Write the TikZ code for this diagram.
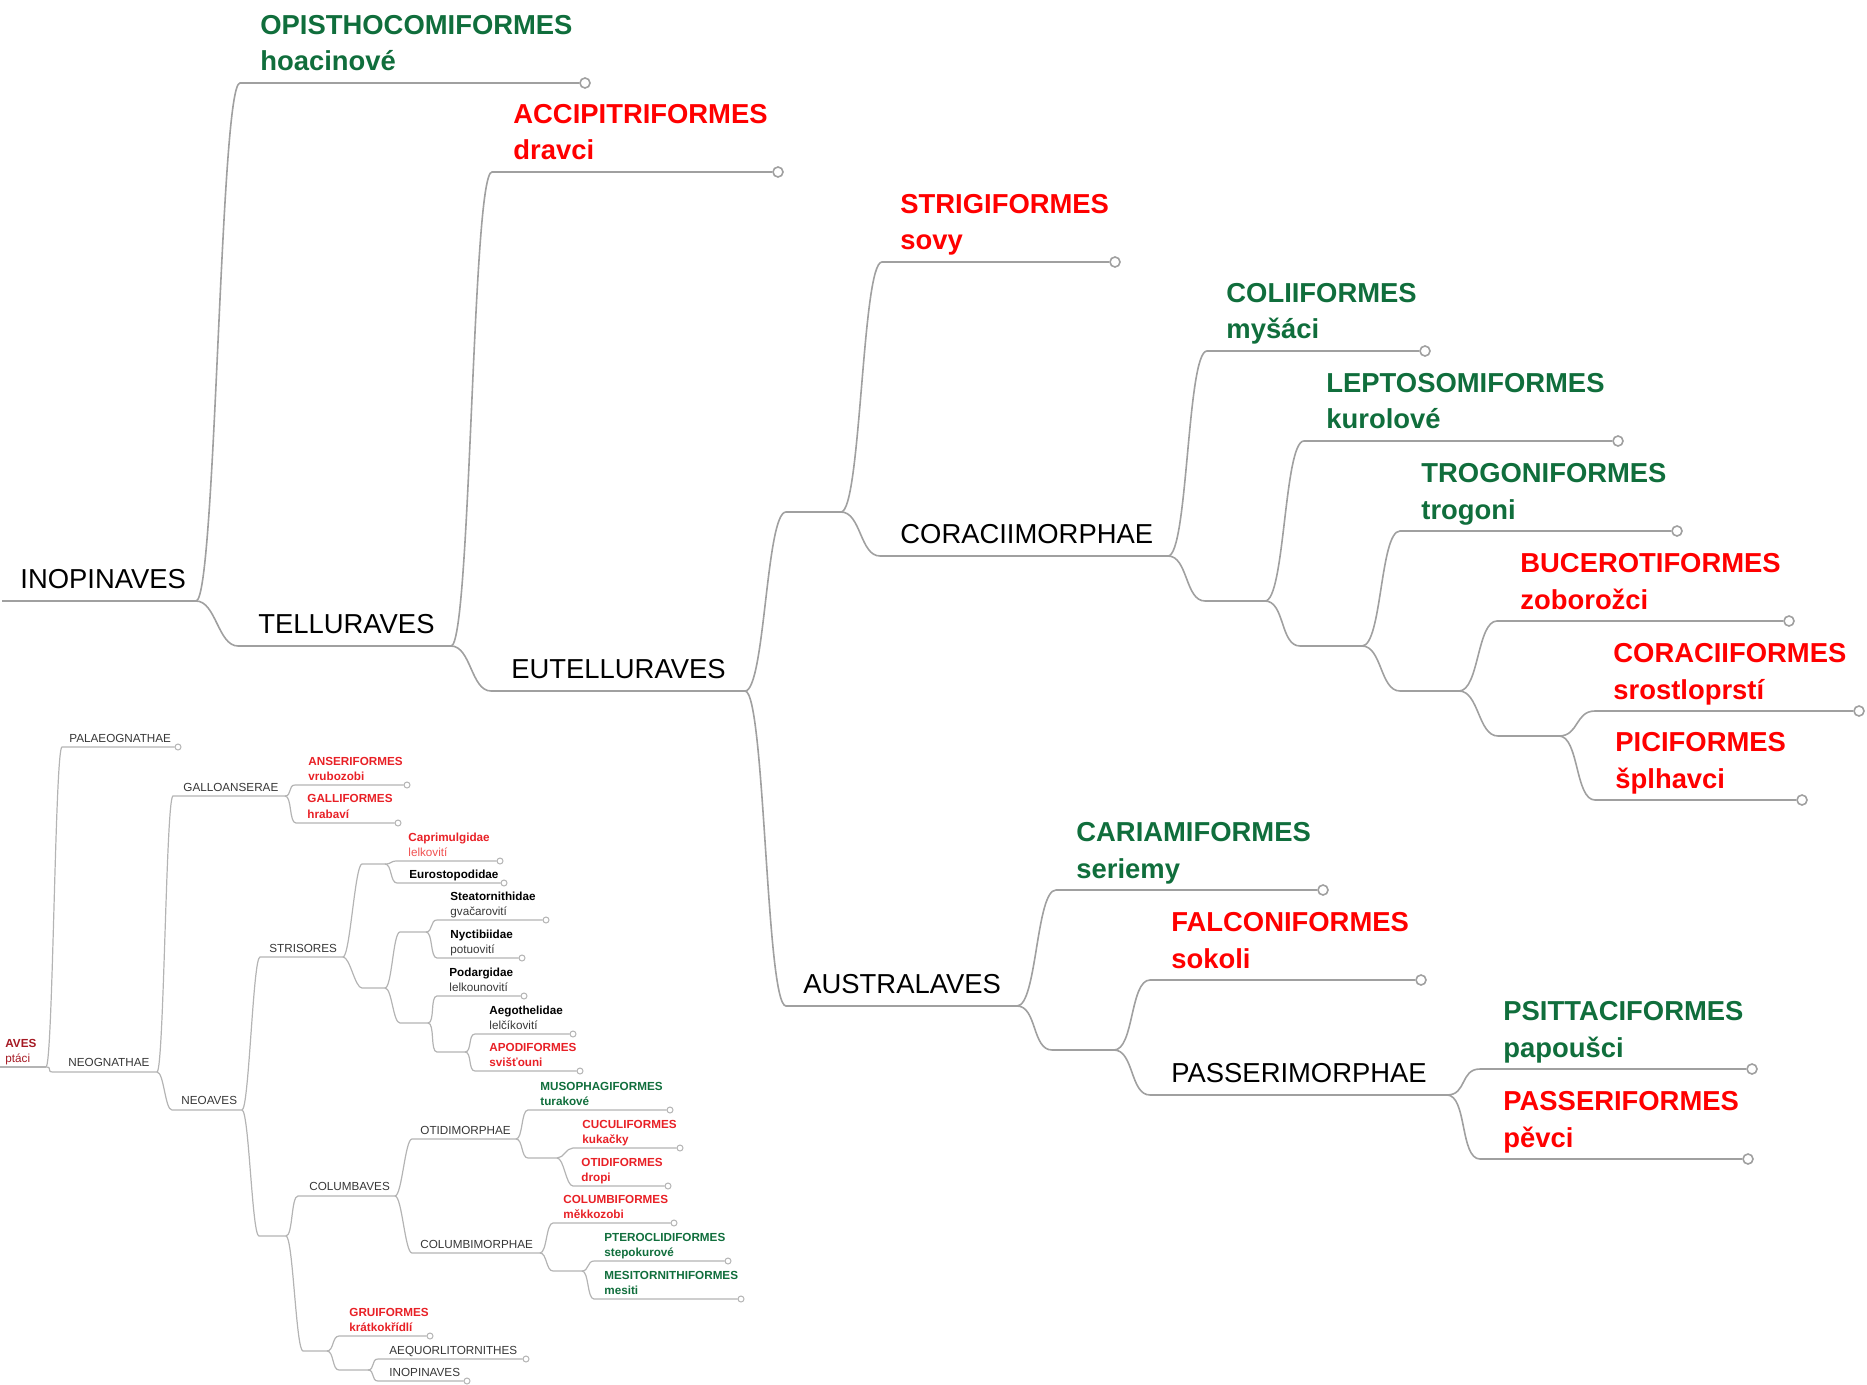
\documentclass[tikz,border=0pt]{standalone}
\usepackage{fontspec}
\setmainfont{Liberation Sans}
\definecolor{grn}{RGB}{16,110,60}
\definecolor{rd}{RGB}{255,0,0}
\definecolor{srd}{RGB}{232,32,38}
\definecolor{lrd}{RGB}{240,80,80}
\definecolor{drd}{RGB}{165,25,35}
\definecolor{lnk}{RGB}{160,160,160}
\definecolor{slnk}{RGB}{180,180,180}
\definecolor{stxt}{RGB}{55,55,55}

\begin{document}
\begin{tikzpicture}
  [x=0.5pt,y=-0.5pt,
   every node/.style={anchor=base west,inner sep=0pt},
   big/.style={font=\fontsize{13.7}{16}\selectfont},
   bigb/.style={font=\fontsize{13.7}{16}\selectfont\bfseries},
   sm/.style={font=\fontsize{5.85}{7}\selectfont,text=stxt},
   smb/.style={font=\fontsize{5.85}{7}\selectfont\bfseries},
   tip/.style={circle,anchor=center,draw=lnk,fill=white,line width=0.8pt,minimum size=5pt},
   stip/.style={circle,anchor=center,draw=slnk,fill=white,line width=0.5pt,minimum size=3pt},
   link/.style={draw=lnk,line width=0.8pt,out=0,in=180,distance=10pt},
   slink/.style={draw=slnk,line width=0.6pt,out=0,in=180,distance=3.5pt}]
  \useasboundingbox (0,0) rectangle (1867,1385);

  % big tree
  \coordinate (inop0) at (2,601);     \coordinate (inop) at (196,601);
  \coordinate (opis0) at (240,83);    \node[tip] (opis) at (585,83) {};
  \coordinate (tell0) at (238,646);   \coordinate (tell) at (451,646);
  \coordinate (accip0) at (492,172);  \node[tip] (accip) at (778,172) {};
  \coordinate (eutel0) at (491,691);  \coordinate (eutel) at (745,691);
  \coordinate (eua0) at (786,512);    \coordinate (eua) at (841,512);
  \coordinate (austr0) at (786,1006); \coordinate (austr) at (1017,1006);
  \coordinate (strig0) at (882,262);  \node[tip] (strig) at (1115,262) {};
  \coordinate (corm0) at (880,556);   \coordinate (corm) at (1168,556);
  \coordinate (coli0) at (1207,351);  \node[tip] (coli) at (1425,351) {};
  \coordinate (cb0) at (1205,601);    \coordinate (cb) at (1265,601);
  \coordinate (lepto0) at (1304,441); \node[tip] (lepto) at (1618,441) {};
  \coordinate (cc0) at (1300,646);    \coordinate (cc) at (1362,646);
  \coordinate (trog0) at (1400,531);  \node[tip] (trog) at (1677,531) {};
  \coordinate (cd0) at (1400,691);    \coordinate (cd) at (1459,691);
  \coordinate (buce0) at (1497,621);  \node[tip] (buce) at (1789,621) {};
  \coordinate (ce0) at (1498,736);    \coordinate (ce) at (1559,736);
  \coordinate (cora0) at (1595,711);  \node[tip] (cora) at (1859,711) {};
  \coordinate (pici0) at (1595,800);  \node[tip] (pici) at (1802,800) {};
  \coordinate (caria0) at (1056,890); \node[tip] (caria) at (1323,890) {};
  \coordinate (af0) at (1052,1050);   \coordinate (af) at (1114,1050);
  \coordinate (falco0) at (1150,980); \node[tip] (falco) at (1421,980) {};
  \coordinate (pasm0) at (1150,1095); \coordinate (pasm) at (1447,1095);
  \coordinate (psit0) at (1480,1069); \node[tip] (psit) at (1752,1069) {};
  \coordinate (pass0) at (1480,1159); \node[tip] (pass) at (1748,1159) {};

  \node[big] (inopL) at (20,588.5) {INOPINAVES};
  \node[bigb,text=grn] (opisL) at (260,34.5) {OPISTHOCOMIFORMES};
  \node[bigb,text=grn] (opisC) at (260,71) {hoacinové};
  \node[big] (tellL) at (258,633.5) {TELLURAVES};
  \node[bigb,text=rd] (accipL) at (513,123.5) {ACCIPITRIFORMES};
  \node[bigb,text=rd] (accipC) at (513,160) {dravci};
  \node[big] (eutelL) at (511,678.5) {EUTELLURAVES};
  \node[big] (austrL) at (803,993.5) {AUSTRALAVES};
  \node[bigb,text=rd] (strigL) at (900,213.5) {STRIGIFORMES};
  \node[bigb,text=rd] (strigC) at (900,250) {sovy};
  \node[big] (cormL) at (900,543.5) {CORACIIMORPHAE};
  \node[bigb,text=grn] (coliL) at (1226,302.5) {COLIIFORMES};
  \node[bigb,text=grn] (coliC) at (1226,339) {myšáci};
  \node[bigb,text=grn] (leptoL) at (1326,392.5) {LEPTOSOMIFORMES};
  \node[bigb,text=grn] (leptoC) at (1326,429) {kurolové};
  \node[bigb,text=grn] (trogL) at (1421,482.5) {TROGONIFORMES};
  \node[bigb,text=grn] (trogC) at (1421,519) {trogoni};
  \node[bigb,text=rd] (buceL) at (1520,572.5) {BUCEROTIFORMES};
  \node[bigb,text=rd] (buceC) at (1520,609) {zoborožci};
  \node[bigb,text=rd] (coraL) at (1613,662.5) {CORACIIFORMES};
  \node[bigb,text=rd] (coraC) at (1613,699) {srostloprstí};
  \node[bigb,text=rd] (piciL) at (1615,751.5) {PICIFORMES};
  \node[bigb,text=rd] (piciC) at (1615,788) {šplhavci};
  \node[bigb,text=grn] (cariaL) at (1076,841.5) {CARIAMIFORMES};
  \node[bigb,text=grn] (cariaC) at (1076,878) {seriemy};
  \node[bigb,text=rd] (falcoL) at (1171,931.5) {FALCONIFORMES};
  \node[bigb,text=rd] (falcoC) at (1171,968) {sokoli};
  \node[big] (pasmL) at (1171,1082.5) {PASSERIMORPHAE};
  \node[bigb,text=grn] (psitL) at (1503,1020.5) {PSITTACIFORMES};
  \node[bigb,text=grn] (psitC) at (1503,1057) {papoušci};
  \node[bigb,text=rd] (passL) at (1503,1110.5) {PASSERIFORMES};
  \node[bigb,text=rd] (passC) at (1503,1147) {pěvci};

  \draw[link] (inop0) -- (inop);
  \draw[link] (inop) to (opis0) -- (opis);
  \draw[link] (inop) to (tell0) -- (tell);
  \draw[link] (tell) to (accip0) -- (accip);
  \draw[link] (tell) to (eutel0) -- (eutel);
  \draw[link] (eutel) to (eua0) -- (eua);
  \draw[link] (eutel) to (austr0) -- (austr);
  \draw[link] (eua) to (strig0) -- (strig);
  \draw[link] (eua) to (corm0) -- (corm);
  \draw[link] (corm) to (coli0) -- (coli);
  \draw[link] (corm) to (cb0) -- (cb);
  \draw[link] (cb) to (lepto0) -- (lepto);
  \draw[link] (cb) to (cc0) -- (cc);
  \draw[link] (cc) to (trog0) -- (trog);
  \draw[link] (cc) to (cd0) -- (cd);
  \draw[link] (cd) to (buce0) -- (buce);
  \draw[link] (cd) to (ce0) -- (ce);
  \draw[link] (ce) to (cora0) -- (cora);
  \draw[link] (ce) to (pici0) -- (pici);
  \draw[link] (austr) to (caria0) -- (caria);
  \draw[link] (austr) to (af0) -- (af);
  \draw[link] (af) to (falco0) -- (falco);
  \draw[link] (af) to (pasm0) -- (pasm);
  \draw[link] (pasm) to (psit0) -- (psit);
  \draw[link] (pasm) to (pass0) -- (pass);

  % small tree
  \coordinate (aves0) at (0,1067);    \coordinate (aves) at (46,1067);
  \coordinate (palae0) at (62,747);   \node[stip] (palae) at (178,747) {};
  \coordinate (neog0) at (53,1072);   \coordinate (neog) at (157,1072);
  \coordinate (gall0) at (173,796);   \coordinate (gall) at (285,796);
  \coordinate (anser0) at (295,785);  \node[stip] (anser) at (407,785) {};
  \coordinate (galli0) at (296,823);  \node[stip] (galli) at (398,823) {};
  \coordinate (neoav0) at (172,1110); \coordinate (neoav) at (242,1110);
  \coordinate (stris0) at (260,957);  \coordinate (stris) at (343,957);
  \coordinate (su0) at (362,864);     \coordinate (su) at (385,864);
  \coordinate (capri0) at (397,861);  \node[stip] (capri) at (500,861) {};
  \coordinate (euro0) at (397,883);   \node[stip] (euro) at (504,883) {};
  \coordinate (sd0) at (362,988);     \coordinate (sd) at (385,988);
  \coordinate (sdu0) at (400,932);    \coordinate (sdu) at (426,932);
  \coordinate (steat0) at (437,920);  \node[stip] (steat) at (546,920) {};
  \coordinate (nyct0) at (437,958);   \node[stip] (nyct) at (522,958) {};
  \coordinate (sdd0) at (400,1023);   \coordinate (sdd) at (428,1023);
  \coordinate (podar0) at (437,996);  \node[stip] (podar) at (524,996) {};
  \coordinate (sg0) at (437,1052);    \coordinate (sg) at (465,1052);
  \coordinate (aego0) at (475,1034);  \node[stip] (aego) at (573,1034) {};
  \coordinate (apod0) at (475,1071);  \node[stip] (apod) at (580,1071) {};
  \coordinate (sh0) at (259,1236);    \coordinate (sh) at (286,1236);
  \coordinate (colav0) at (298,1196); \coordinate (colav) at (395,1196);
  \coordinate (otid0) at (412,1139);  \coordinate (otid) at (516,1139);
  \coordinate (muso0) at (528,1110);  \node[stip] (muso) at (670,1110) {};
  \coordinate (sj0) at (528,1158);    \coordinate (sj) at (557,1158);
  \coordinate (cucu0) at (573,1148);  \node[stip] (cucu) at (680,1148) {};
  \coordinate (otidf0) at (573,1186); \node[stip] (otidf) at (668,1186) {};
  \coordinate (colm0) at (412,1253);  \coordinate (colm) at (540,1253);
  \coordinate (colf0) at (553,1223);  \node[stip] (colf) at (674,1223) {};
  \coordinate (sk0) at (553,1271);    \coordinate (sk) at (582,1271);
  \coordinate (ptero0) at (594,1261); \node[stip] (ptero) at (728,1261) {};
  \coordinate (mesi0) at (594,1299);  \node[stip] (mesi) at (741,1299) {};
  \coordinate (si0) at (303,1351);    \coordinate (si) at (327,1351);
  \coordinate (grui0) at (339,1336);  \node[stip] (grui) at (430,1336) {};
  \coordinate (sl0) at (339,1370);    \coordinate (sl) at (368,1370);
  \coordinate (aequ0) at (378,1359);  \node[stip] (aequ) at (526,1359) {};
  \coordinate (sinop0) at (378,1381); \node[stip] (sinop) at (467,1381) {};

  \node[smb,text=drd] (avesL) at (5,1047) {AVES};
  \node[sm,text=drd] (avesC) at (5,1062.5) {ptáci};
  \node[sm] (palaeL) at (69,742) {PALAEOGNATHAE};
  \node[sm] (neogL) at (68,1066.5) {NEOGNATHAE};
  \node[sm] (gallL) at (183,791) {GALLOANSERAE};
  \node[smb,text=srd] (anserL) at (308,765) {ANSERIFORMES};
  \node[smb,text=srd] (anserC) at (308,780) {vrubozobi};
  \node[smb,text=srd] (galliL) at (307,802.5) {GALLIFORMES};
  \node[smb,text=srd] (galliC) at (307,818) {hrabaví};
  \node[sm] (neoavL) at (181,1104.5) {NEOAVES};
  \node[sm] (strisL) at (269,952) {STRISORES};
  \node[smb,text=srd] (capriL) at (408,841) {Caprimulgidae};
  \node[sm,text=lrd] (capriC) at (408,856) {lelkovití};
  \node[smb] (euroL) at (409,878) {Eurostopodidae};
  \node[smb] (steatL) at (450,900) {Steatornithidae};
  \node[sm] (steatC) at (450,915) {gvačarovití};
  \node[smb] (nyctL) at (450,938) {Nyctibiidae};
  \node[sm] (nyctC) at (450,953) {potuovití};
  \node[smb] (podarL) at (449,976) {Podargidae};
  \node[sm] (podarC) at (449,991) {lelkounovití};
  \node[smb] (aegoL) at (489,1014) {Aegothelidae};
  \node[sm] (aegoC) at (489,1029) {lelčíkovití};
  \node[smb,text=srd] (apodL) at (489,1051) {APODIFORMES};
  \node[smb,text=srd] (apodC) at (489,1066) {svišťouni};
  \node[sm] (colavL) at (309,1190.5) {COLUMBAVES};
  \node[sm] (otidL) at (420,1134) {OTIDIMORPHAE};
  \node[smb,text=grn] (musoL) at (540,1090) {MUSOPHAGIFORMES};
  \node[smb,text=grn] (musoC) at (540,1105) {turakové};
  \node[smb,text=srd] (cucuL) at (582,1128) {CUCULIFORMES};
  \node[smb,text=srd] (cucuC) at (582,1143) {kukačky};
  \node[smb,text=srd] (otidfL) at (581,1166) {OTIDIFORMES};
  \node[smb,text=srd] (otidfC) at (581,1181) {dropi};
  \node[sm] (colmL) at (420,1248) {COLUMBIMORPHAE};
  \node[smb,text=srd] (colfL) at (563,1203) {COLUMBIFORMES};
  \node[smb,text=srd] (colfC) at (563,1218) {měkkozobi};
  \node[smb,text=grn] (pteroL) at (604,1241) {PTEROCLIDIFORMES};
  \node[smb,text=grn] (pteroC) at (604,1256) {stepokurové};
  \node[smb,text=grn] (mesiL) at (604,1279) {MESITORNITHIFORMES};
  \node[smb,text=grn] (mesiC) at (604,1294) {mesiti};
  \node[smb,text=srd] (gruiL) at (349,1316) {GRUIFORMES};
  \node[smb,text=srd] (gruiC) at (349,1331) {krátkokřídlí};
  \node[sm] (aequL) at (389,1354) {AEQUORLITORNITHES};
  \node[sm] (sinopL) at (389,1376) {INOPINAVES};

  \draw[slink] (aves0) -- (aves);
  \draw[slink] (aves) to (palae0) -- (palae);
  \draw[slink] (aves) to (neog0) -- (neog);
  \draw[slink] (neog) to (gall0) -- (gall);
  \draw[slink] (neog) to (neoav0) -- (neoav);
  \draw[slink] (gall) to (anser0) -- (anser);
  \draw[slink] (gall) to (galli0) -- (galli);
  \draw[slink] (neoav) to (stris0) -- (stris);
  \draw[slink] (neoav) to (sh0) -- (sh);
  \draw[slink] (stris) to (su0) -- (su);
  \draw[slink] (stris) to (sd0) -- (sd);
  \draw[slink] (su) to (capri0) -- (capri);
  \draw[slink] (su) to (euro0) -- (euro);
  \draw[slink] (sd) to (sdu0) -- (sdu);
  \draw[slink] (sd) to (sdd0) -- (sdd);
  \draw[slink] (sdu) to (steat0) -- (steat);
  \draw[slink] (sdu) to (nyct0) -- (nyct);
  \draw[slink] (sdd) to (podar0) -- (podar);
  \draw[slink] (sdd) to (sg0) -- (sg);
  \draw[slink] (sg) to (aego0) -- (aego);
  \draw[slink] (sg) to (apod0) -- (apod);
  \draw[slink] (sh) to (colav0) -- (colav);
  \draw[slink] (sh) to (si0) -- (si);
  \draw[slink] (colav) to (otid0) -- (otid);
  \draw[slink] (colav) to (colm0) -- (colm);
  \draw[slink] (otid) to (muso0) -- (muso);
  \draw[slink] (otid) to (sj0) -- (sj);
  \draw[slink] (sj) to (cucu0) -- (cucu);
  \draw[slink] (sj) to (otidf0) -- (otidf);
  \draw[slink] (colm) to (colf0) -- (colf);
  \draw[slink] (colm) to (sk0) -- (sk);
  \draw[slink] (sk) to (ptero0) -- (ptero);
  \draw[slink] (sk) to (mesi0) -- (mesi);
  \draw[slink] (si) to (grui0) -- (grui);
  \draw[slink] (si) to (sl0) -- (sl);
  \draw[slink] (sl) to (aequ0) -- (aequ);
  \draw[slink] (sl) to (sinop0) -- (sinop);
\end{tikzpicture}
\end{document}
